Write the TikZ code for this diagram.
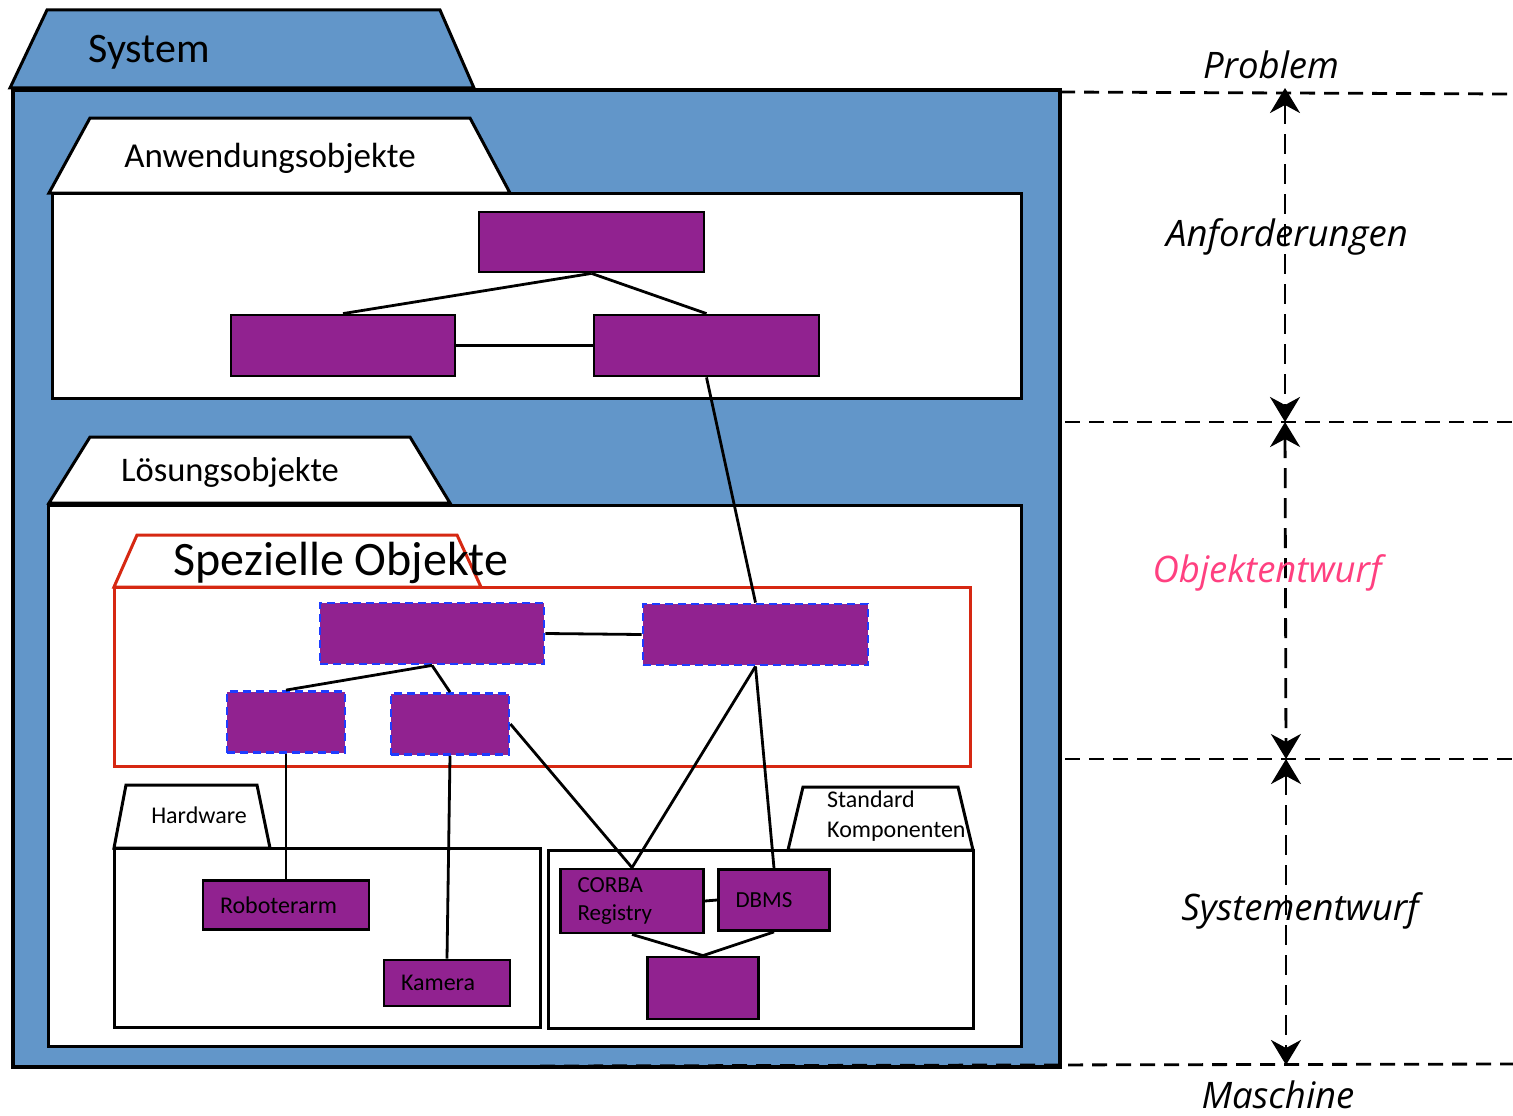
\documentclass[tikz,border=0pt]{standalone}
\usepackage{fontspec}
\setmainfont{Carlito}
\newfontfamily\phasefont{Open Sans}
\usetikzlibrary{arrows.meta}

\definecolor{sysblue}{RGB}{98,150,201}
\definecolor{objpurple}{RGB}{145,34,144}
\definecolor{specred}{RGB}{214,40,18}
\definecolor{markblue}{RGB}{30,60,255}
\definecolor{phasepink}{RGB}{255,64,128}

\tikzset{
  obj/.style={fill=objpurple, draw=black, line width=2.8pt, inner sep=0pt},
  named/.style={obj, inner xsep=17pt, align=left, font=\fontsize{24}{28}\selectfont},
  special/.style={fill=objpurple, draw=markblue, dash pattern=on 8pt off 5pt, line width=2.8pt, inner sep=0pt},
  tab/.style={draw=black, line width=3pt, fill=white},
  link/.style={draw=black, line width=2.8pt},
  phase/.style={dash pattern=on 15pt off 9pt, line width=2.8pt},
  phasearrow/.style={dash pattern=on 20pt off 10pt, line width=2.8pt,
    {Stealth[length=25pt,width=30pt,inset=8pt]}-{Stealth[length=25pt,width=30pt,inset=8pt]}},
  phaselabel/.style={font=\phasefont\itshape\fontsize{36.5}{42}\selectfont},
}

\begin{document}
\begin{tikzpicture}[x=1pt, y=-1pt]
    \useasboundingbox (0,0) rectangle (1513,1116);

    \draw[tab, fill=sysblue] (10,88) -- (47,10) -- (440,10) -- (474,88) -- cycle;
    \draw[line width=3.5pt, fill=sysblue] (13,90) rectangle (1060,1067);
    \node[font=\fontsize{42}{48}\selectfont] (system) at (149,52) {System};

    \draw[tab] (49,193) -- (90,118) -- (470,118) -- (510,193) -- cycle;
    \draw[tab] (52,193) rectangle (1021,398);
    \node[font=\fontsize{35}{40}\selectfont] (anwendung) at (270,158) {Anwendungsobjekte};

    \draw[tab] (49,503) -- (90,437) -- (410,437) -- (450,503) -- cycle;
    \draw[tab] (48,505) rectangle (1021,1046);
    \node[font=\fontsize{34.5}{40}\selectfont] (loesung) at (230,472) {Lösungsobjekte};

    \draw[tab, draw=specred] (114,587) -- (137,535) -- (457,535) -- (481,587) -- cycle;
    \draw[tab, draw=specred] (114,587) rectangle (970,766);
    \node[font=\fontsize{48}{54}\selectfont] (speziell) at (341,563) {Spezielle Objekte};

    \draw[tab] (114,848) -- (126,785) -- (257,785) -- (270,848) -- cycle;
    \draw[tab] (114,848) rectangle (540,1027);
    \node[font=\fontsize{24}{28}\selectfont] (hardware) at (199,815) {Hardware};

    \draw[tab] (788,850) -- (803,787) -- (958,787) -- (973,850) -- cycle;
    \draw[tab] (548,850) rectangle (973,1028);
    \node[anchor=north west, align=left, inner sep=0pt, font=\fontsize{24}{30}\selectfont]
      (standard) at (827,791) {Standard\\Komponenten};

    \node[obj, minimum width=225pt, minimum height=60pt] (ao1) at (591.5,242) {};
    \node[obj, minimum width=224pt, minimum height=61pt] (ao2) at (343,345.5) {};
    \node[obj, minimum width=225pt, minimum height=61pt] (ao3) at (706.5,345.5) {};

    \node[special, minimum width=224pt, minimum height=61pt] (so1) at (432,633.5) {};
    \node[special, minimum width=225pt, minimum height=61pt] (so2) at (755.5,634.5) {};
    \node[special, minimum width=118pt, minimum height=61pt] (so3) at (286,722) {};
    \node[special, minimum width=118pt, minimum height=61pt] (so4) at (450,724) {};

    \node[named, text width=132pt, minimum height=49pt] (robot) at (286,905) {Roboterarm};
    \node[named, text width=92pt, minimum height=46pt] (kamera) at (447,983) {Kamera};
    \node[named, text width=109pt, minimum height=64pt, font=\fontsize{23}{28}\selectfont] (corba) at (632,901) {CORBA\\Registry};
    \node[named, text width=77pt, minimum height=61pt, font=\fontsize{23}{28}\selectfont] (dbms) at (774,900) {DBMS};
    \node[obj, minimum width=111pt, minimum height=62pt] (store) at (703,988) {};

    \draw[link] (ao1.south) -- (ao2.north);
    \draw[link] (ao1.south) -- (ao3.north);
    \draw[link] (ao2.east) -- (ao3.west);
    \draw[link] (ao3.south) -- (so2.north);
    \draw[link] (so1.east) -- (so2.west);
    \draw[link] (so1.south) -- (so3.north);
    \draw[link] (so1.south) -- (so4.north);
    \draw[link] (so3.south) -- (robot.north);
    \draw[link] (so4.south) -- (kamera.north);
    \draw[link] (so4.east) -- (corba.north);
    \draw[link] (so2.south) -- (corba.north);
    \draw[link] (so2.south) -- (dbms.north);
    \draw[link] (corba.east) -- (dbms.west);
    \draw[link] (corba.south) -- (store.north);
    \draw[link] (dbms.south) -- (store.north);

    \coordinate (l1) at (1060,92);
    \coordinate (r1) at (1513,94);
    \coordinate (l2) at (1065,422);
    \coordinate (r2) at (1513,422);
    \coordinate (l3) at (1065,759);
    \coordinate (r3) at (1513,759);
    \coordinate (l4) at (540,1066);
    \coordinate (r4) at (1513,1064);
    \coordinate (m1) at (1285,88);
    \coordinate (m2) at (1285,422);
    \coordinate (m3) at (1286,759);
    \coordinate (m4) at (1286,1065);

    \draw[phase] (l1) -- (r1);
    \draw[phase] (l2) -- (r2);
    \draw[phase] (l3) -- (r3);
    \draw[phase] (l4) -- (r4);
    \draw[phasearrow] (m1) -- (m2);
    \draw[phasearrow] (m2) -- (m3);
    \draw[phasearrow] (m3) -- (m4);

    \node[phaselabel] (problem) at (1271,65) {Problem};
    \node[phaselabel] (anforderung) at (1287,237) {Anforderungen};
    \node[phaselabel, text=phasepink] (objektentwurf) at (1267,573) {Objektentwurf};
    \node[phaselabel] (systementwurf) at (1300,911) {Systementwurf};
    \node[phaselabel, anchor=base, inner sep=0pt] (maschine) at (1278,1108) {Maschine};
  \end{tikzpicture}
\end{document}
